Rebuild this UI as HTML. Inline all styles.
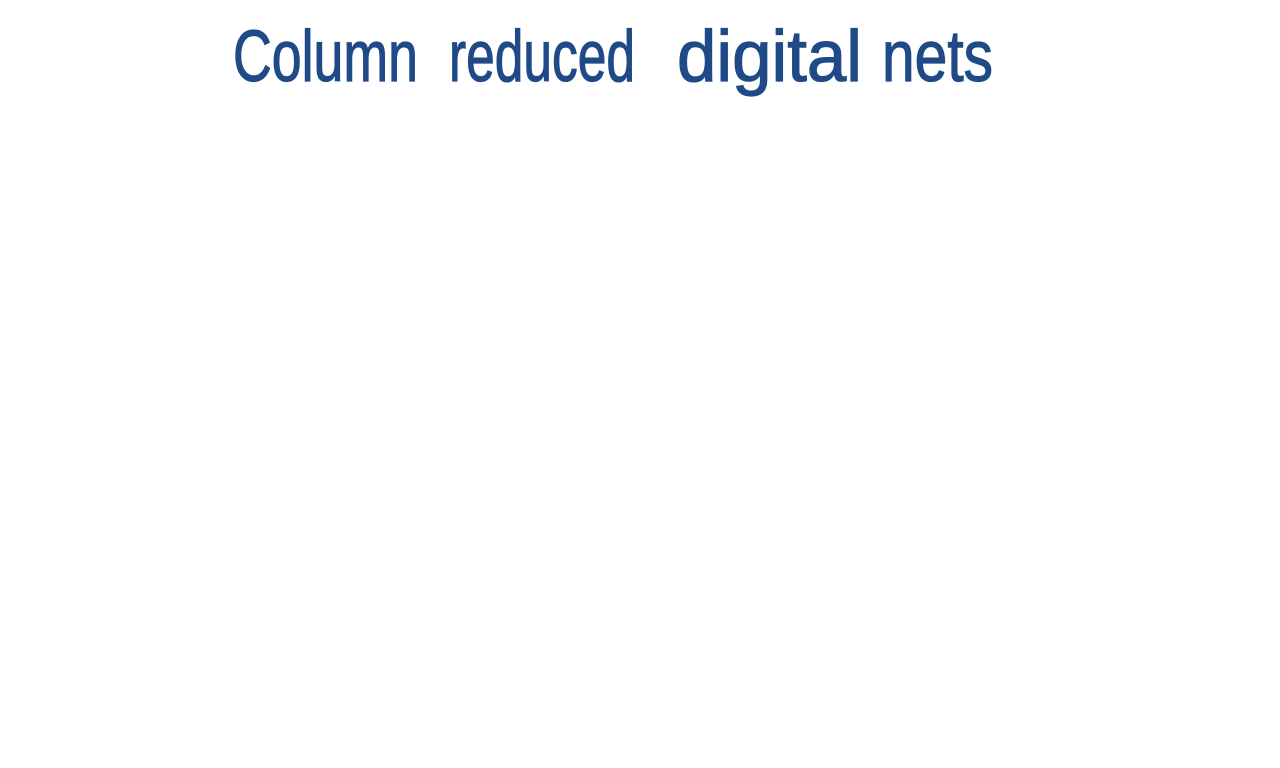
<!DOCTYPE html>
<html><head><meta charset="utf-8"><style>
html,body{margin:0;padding:0;background:#fff;width:1280px;height:768px;overflow:hidden}
</style></head><body>
<svg width="1280" height="768" xmlns="http://www.w3.org/2000/svg">
<g font-family="Liberation Sans, sans-serif" font-size="72" fill="#1f4a87" stroke="#1f4a87" stroke-width="1.2" lengthAdjust="spacingAndGlyphs">
<text x="233" y="81" textLength="185" lengthAdjust="spacingAndGlyphs">Column</text>
<text x="449" y="81" textLength="186" lengthAdjust="spacingAndGlyphs">reduced</text>
<text x="677" y="81" textLength="185" lengthAdjust="spacingAndGlyphs">digital</text>
<text x="882" y="81" textLength="111" lengthAdjust="spacingAndGlyphs">nets</text>
</g>
</svg>
</body></html>
